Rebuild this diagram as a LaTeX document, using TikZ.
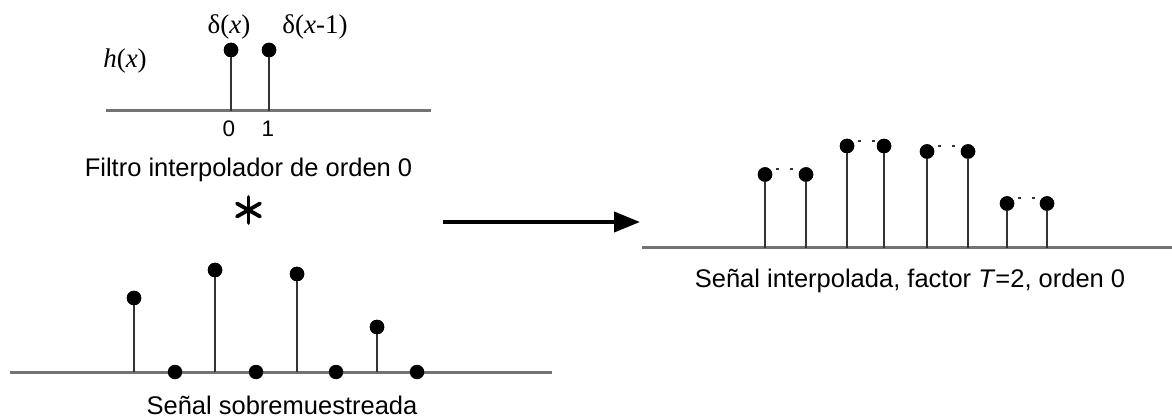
\documentclass[tikz,border=0pt]{standalone}
\usepackage{fontspec}
\setmainfont{Liberation Sans}
\newfontfamily\timesfont{Liberation Serif}
\usetikzlibrary{arrows.meta,calc}
\begin{document}
\begin{tikzpicture}[x=1pt,y=-1pt,
  axisline/.style={draw=black!55, line width=3pt},
  stemline/.style={draw=black!80, line width=2pt},
  sample/.style={circle, fill=black, inner sep=0pt, minimum size=14.5pt},
  holdline/.style={draw=black!80, line width=2.2pt, dash pattern=on 3pt off 11pt, dash phase=8pt},
  caption/.style={font=\fontsize{25.5}{30}\selectfont, anchor=base, inner sep=0pt},
  ticklbl/.style={font=\fontsize{22.5}{26}\selectfont, anchor=base, inner sep=0pt},
  mathlbl/.style={font=\timesfont\fontsize{27}{32}\selectfont, anchor=base, inner sep=0pt},
  convarm/.style={draw=black, line width=3.8pt, line cap=round}]
\useasboundingbox (0,0) rectangle (1172,419);

% ---- interpolation filter h(x) ----
\coordinate (hL) at (106,111);
\coordinate (hR) at (431,111);
\draw[axisline] (hL) -- (hR);
\coordinate (h0) at (231,111);
\coordinate (h1) at (269,111);
\node[sample] (d0) at (231,50) {};
\node[sample] (d1) at (269,50) {};
\draw[stemline] (h0) -- (d0);
\draw[stemline] (h1) -- (d1);
\node[sample] at (d0) {};
\node[sample] at (d1) {};
\node[mathlbl] (lblh) at (125,68) {\textit{h}(\textit{x})};
\node[mathlbl] (lbld0) at (229,34) {δ(\textit{x})};
\node[mathlbl] (lbld1) at (315,34) {δ(\textit{x}-1)};
\node[ticklbl] (t0) at (229,137) {0};
\node[ticklbl] (t1) at (268,137) {1};
\node[caption] (capf) at (248.5,177) {Filtro interpolador de orden 0};

% ---- convolution operator: six-armed asterisk ----
\coordinate (conv) at (248.5,210);
\draw[convarm] ($(conv)+(0,-13)$) -- ($(conv)+(0,13)$);
\draw[convarm] ($(conv)+(-11.5,-6.5)$) -- ($(conv)+(11.5,6.5)$);
\draw[convarm] ($(conv)+(-11.5,6.5)$) -- ($(conv)+(11.5,-6.5)$);

% ---- upsampled signal ----
\coordinate (sL) at (10,372);
\coordinate (sR) at (552,372);
\draw[axisline] (sL) -- (sR);
\foreach \n/\x/\y in {1/134/298, 2/215/270, 3/297/274, 4/377/327} {
  \coordinate (sf\n) at (\x,372);
  \node[sample] (s\n) at (\x,\y) {};
  \draw[stemline] (sf\n) -- (s\n);
  \node[sample] at (s\n) {};
}
\foreach \n/\x in {1/175, 2/256, 3/336, 4/417} {
  \node[sample] (z\n) at (\x,372) {};
}
\node[caption] (caps) at (282,414) {Señal sobremuestreada};

% ---- arrow ----
\coordinate (aL) at (443,222);
\coordinate (aR) at (640,222);
\draw[line width=4pt, -{Triangle[length=26pt,width=20pt]}] (aL) -- (aR);

% ---- interpolated signal (zero-order hold) ----
\coordinate (rL) at (642,248);
\coordinate (rR) at (1172,248);
\draw[axisline] (rL) -- (rR);
\foreach \n/\xa/\xb/\y in {1/765/806/174.5, 2/847/884/146, 3/927/968/151.5, 4/1007/1047/203.5} {
  \coordinate (ra\n) at (\xa,248);
  \coordinate (rb\n) at (\xb,248);
  \node[sample] (pa\n) at (\xa,\y) {};
  \node[sample] (pb\n) at (\xb,\y) {};
  \draw[stemline] (ra\n) -- (pa\n);
  \draw[stemline] (rb\n) -- (pb\n);
  \draw[holdline] (pa\n.north east) -- (pb\n.north west);
  \node[sample] at (pa\n) {};
  \node[sample] at (pb\n) {};
}
\node[caption] (capr) at (910,288) {Señal interpolada, factor \textit{T}=2, orden 0};
\end{tikzpicture}
\end{document}
